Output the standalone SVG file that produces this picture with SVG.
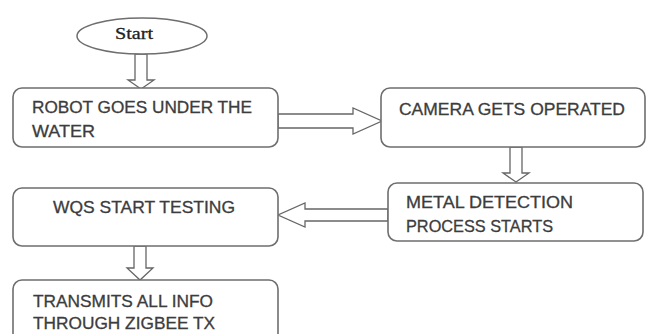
<svg xmlns="http://www.w3.org/2000/svg" width="647" height="334" viewBox="0 0 647 334">
<style>
.box{fill:#fff;stroke:#6e6e6e;stroke-width:1.6}
.arr{fill:#fff;stroke:#666;stroke-width:1.3;stroke-linejoin:miter}
.t{font-family:"Liberation Sans",Arial,sans-serif;font-size:16.5px;fill:#3c3c3c;stroke:#3c3c3c;stroke-width:0.3}
.s{font-family:"Liberation Serif","Times New Roman",serif;font-size:16px;fill:#222;stroke:#222;stroke-width:0.3}
</style>
<rect width="647" height="334" fill="#fff"/>
<g id="connectors">
<polygon class="arr" points="135,54 147,54 147,80 154,80 141,89 128,80 135,80"/>
<polygon class="arr" points="278,114 353,114 353,108 382,121 353,134 353,128 278,128"/>
<polygon class="arr" points="510,147 522,147 522,173 529,173 516,182 503,173 510,173"/>
<polygon class="arr" points="388,209 305,209 305,203 278,215 305,227 305,221 388,221"/>
<polygon class="arr" points="134,246 146,246 146,268 153,268 140,280 127,268 134,268"/>
</g>
<g id="start">
<ellipse cx="142" cy="36" rx="65" ry="18" fill="#fff" stroke="#6e6e6e" stroke-width="1.5"/>
<text class="s" x="115" y="39" textLength="38" lengthAdjust="spacingAndGlyphs">Start</text>
</g>
<g id="robot">
<rect class="box" x="13" y="88" width="265" height="59" rx="9"/>
<text class="t" x="32" y="113" textLength="220" lengthAdjust="spacingAndGlyphs">ROBOT GOES UNDER THE</text>
<text class="t" x="32" y="137" textLength="63" lengthAdjust="spacingAndGlyphs">WATER</text>
</g>
<g id="camera">
<rect class="box" x="381" y="88" width="264" height="59" rx="9"/>
<text class="t" x="399" y="115" textLength="226" lengthAdjust="spacingAndGlyphs">CAMERA GETS OPERATED</text>
</g>
<g id="metal">
<rect class="box" x="388" y="183" width="255" height="58" rx="9"/>
<text class="t" x="406" y="208" textLength="167" lengthAdjust="spacingAndGlyphs">METAL DETECTION</text>
<text class="t" x="406" y="232" textLength="147" lengthAdjust="spacingAndGlyphs">PROCESS STARTS</text>
</g>
<g id="wqs">
<rect class="box" x="13" y="188" width="265" height="58" rx="9"/>
<text class="t" x="53" y="213" textLength="182" lengthAdjust="spacingAndGlyphs">WQS START TESTING</text>
</g>
<g id="transmit">
<rect class="box" x="13" y="280" width="265" height="62" rx="9"/>
<text class="t" x="33" y="307" textLength="180" lengthAdjust="spacingAndGlyphs">TRANSMITS ALL INFO</text>
<text class="t" x="33" y="329" textLength="182" lengthAdjust="spacingAndGlyphs">THROUGH ZIGBEE TX</text>
</g>
</svg>
